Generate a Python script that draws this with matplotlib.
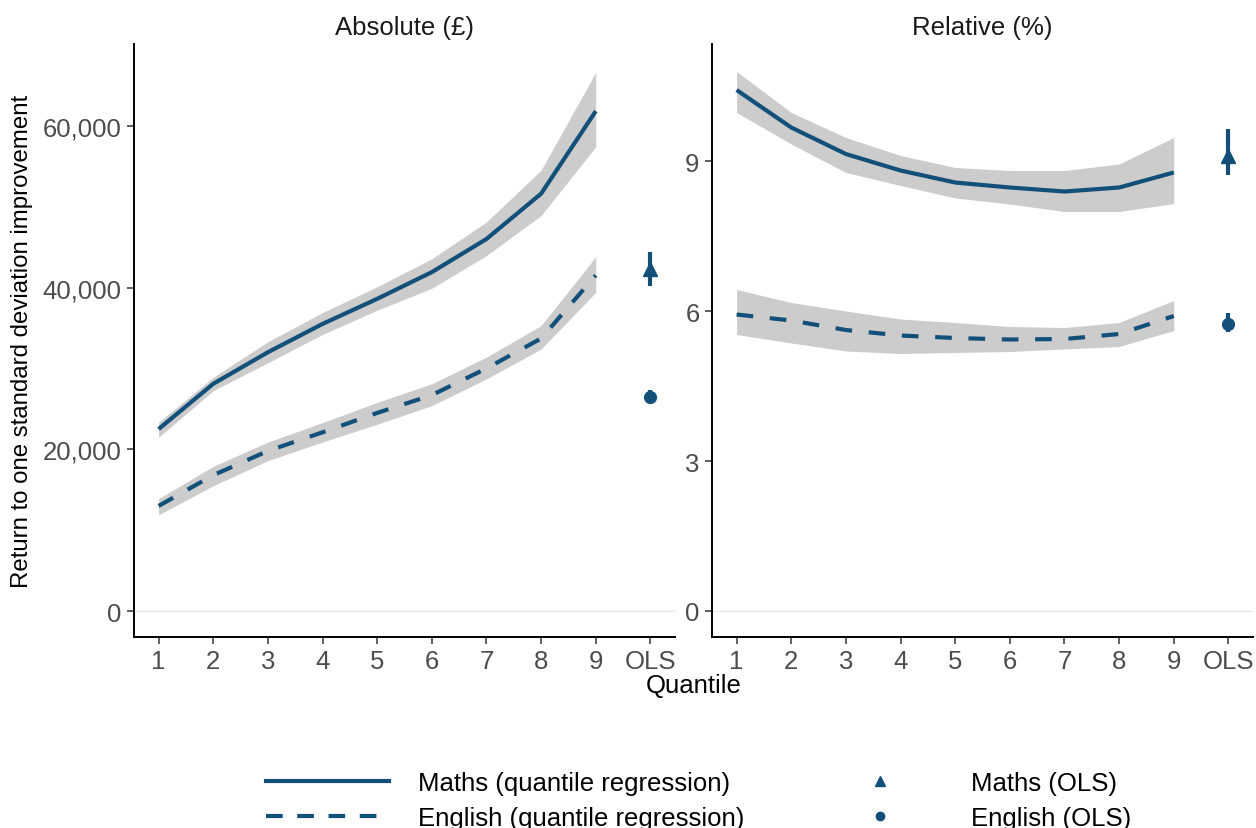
import matplotlib
matplotlib.use("Agg")
import matplotlib.pyplot as plt
from matplotlib.lines import Line2D
from matplotlib.ticker import FuncFormatter

plt.rcParams['font.family'] = ['Liberation Sans', 'DejaVu Sans']

# ---- data ----
categories = ['1', '2', '3', '4', '5', '6', '7', '8', '9', 'OLS']
quantiles = [1, 2, 3, 4, 5, 6, 7, 8, 9]

abs_maths = [22500, 28100, 32000, 35500, 38600, 41900, 46000, 51600, 61800]
abs_maths_lo = [21500, 27250, 30700, 34200, 37200, 39900, 43950, 48900, 57400]
abs_maths_hi = [23350, 28900, 33300, 36900, 40100, 43550, 48100, 54500, 66600]
abs_eng = [13000, 16800, 19800, 22100, 24500, 26700, 30000, 33700, 41500]
abs_eng_lo = [11900, 15500, 18600, 20900, 23100, 25400, 28700, 32400, 39400]
abs_eng_hi = [13900, 17900, 20900, 23300, 25800, 28100, 31400, 35300, 43800]
abs_ols_maths = [42300, 40150, 44450]   # estimate, low, high
abs_ols_eng = [26500, 25800, 27300]

rel_maths = [10.42, 9.67, 9.14, 8.81, 8.57, 8.47, 8.39, 8.47, 8.77]
rel_maths_lo = [9.97, 9.34, 8.77, 8.51, 8.26, 8.14, 7.99, 7.99, 8.15]
rel_maths_hi = [10.79, 9.97, 9.47, 9.11, 8.87, 8.81, 8.81, 8.94, 9.47]
rel_eng = [5.93, 5.81, 5.62, 5.51, 5.46, 5.43, 5.44, 5.54, 5.90]
rel_eng_lo = [5.53, 5.36, 5.20, 5.15, 5.17, 5.19, 5.24, 5.29, 5.61]
rel_eng_hi = [6.43, 6.17, 6.00, 5.84, 5.77, 5.69, 5.67, 5.77, 6.21]
rel_ols_maths = [9.11, 8.72, 9.65]
rel_ols_eng = [5.75, 5.59, 5.96]

abs_ticks = [0, 20000, 40000, 60000]
rel_ticks = [0, 3, 6, 9]

blue = '#12507a'
band = '#cccccc'
tick_grey = '#4d4d4d'
fs = 18.5

fig = plt.figure(figsize=(12.56, 8.29), dpi=100)
ax1 = fig.add_axes([0.1067, 0.2304, 0.4307, 0.7153])
ax2 = fig.add_axes([0.5669, 0.2304, 0.4307, 0.7153])

panels = [
    (ax1, 'Absolute (£)', abs_maths, abs_maths_lo, abs_maths_hi, abs_eng, abs_eng_lo, abs_eng_hi,
     abs_ols_maths, abs_ols_eng, abs_ticks, (-3200, 70100)),
    (ax2, 'Relative (%)', rel_maths, rel_maths_lo, rel_maths_hi, rel_eng, rel_eng_lo, rel_eng_hi,
     rel_ols_maths, rel_ols_eng, rel_ticks, (-0.52, 11.34)),
]

ols_x = len(categories)
for ax, title, m, mlo, mhi, e, elo, ehi, om, oe, yt, ylim in panels:
    ax.axhline(0, color='#e6e6e6', lw=1, zorder=0)
    ax.fill_between(quantiles, mlo, mhi, color=band, lw=0, zorder=1)
    ax.fill_between(quantiles, elo, ehi, color=band, lw=0, zorder=1)
    ax.plot(quantiles, m, color=blue, lw=3, solid_capstyle='butt', zorder=2)
    ax.plot(quantiles, e, color=blue, lw=3, linestyle=(0, (4, 4)),
            dash_capstyle='butt', zorder=2)
    ax.vlines(ols_x, om[1], om[2], color=blue, lw=3, zorder=3)
    ax.vlines(ols_x, oe[1], oe[2], color=blue, lw=3, zorder=3)
    ax.plot([ols_x], [om[0]], marker='^', ms=10.5, color=blue, ls='none', zorder=4)
    ax.plot([ols_x], [oe[0]], marker='o', ms=8.5, color=blue, ls='none', zorder=4)

    ax.set_xlim(0.55, 10.45)
    ax.set_ylim(*ylim)
    ax.set_xticks(range(1, len(categories) + 1))
    ax.set_xticklabels(categories)
    ax.set_yticks(yt)
    ax.set_title(title, fontsize=fs, pad=7, color='#1a1a1a')
    for s in ['top', 'right']:
        ax.spines[s].set_visible(False)
    for s in ['left', 'bottom']:
        ax.spines[s].set_linewidth(1.4)
        ax.spines[s].set_color('black')
    ax.tick_params(axis='both', labelsize=fs, labelcolor=tick_grey,
                   color='#333333', length=5, width=1.1, pad=4)

ax1.yaxis.set_major_formatter(FuncFormatter(lambda v, p: f'{int(v):,}'))

fig.text(0.5523, 0.172, 'Quantile', ha='center', va='center', fontsize=fs)
fig.text(0.0175, 0.588, 'Return to one standard deviation improvement',
         rotation=90, ha='center', va='center', fontsize=17.3)

handles = [
    Line2D([], [], color=blue, lw=3),
    Line2D([], [], color=blue, lw=3, linestyle=(0, (4, 3.5)), dash_capstyle='butt'),
    Line2D([], [], color=blue, marker='^', ms=7, ls='none'),
    Line2D([], [], color=blue, marker='o', ms=6, ls='none'),
]
labels = ['Maths (quantile regression)', 'English (quantile regression)',
          'Maths (OLS)', 'English (OLS)']
fig.legend(handles, labels, loc='center', bbox_to_anchor=(0.556, 0.033), ncol=2,
           frameon=False, fontsize=fs, handlelength=4.8, handletextpad=1.15,
           columnspacing=2.85, labelspacing=0.42)

fig.savefig('out.png', dpi=100)
